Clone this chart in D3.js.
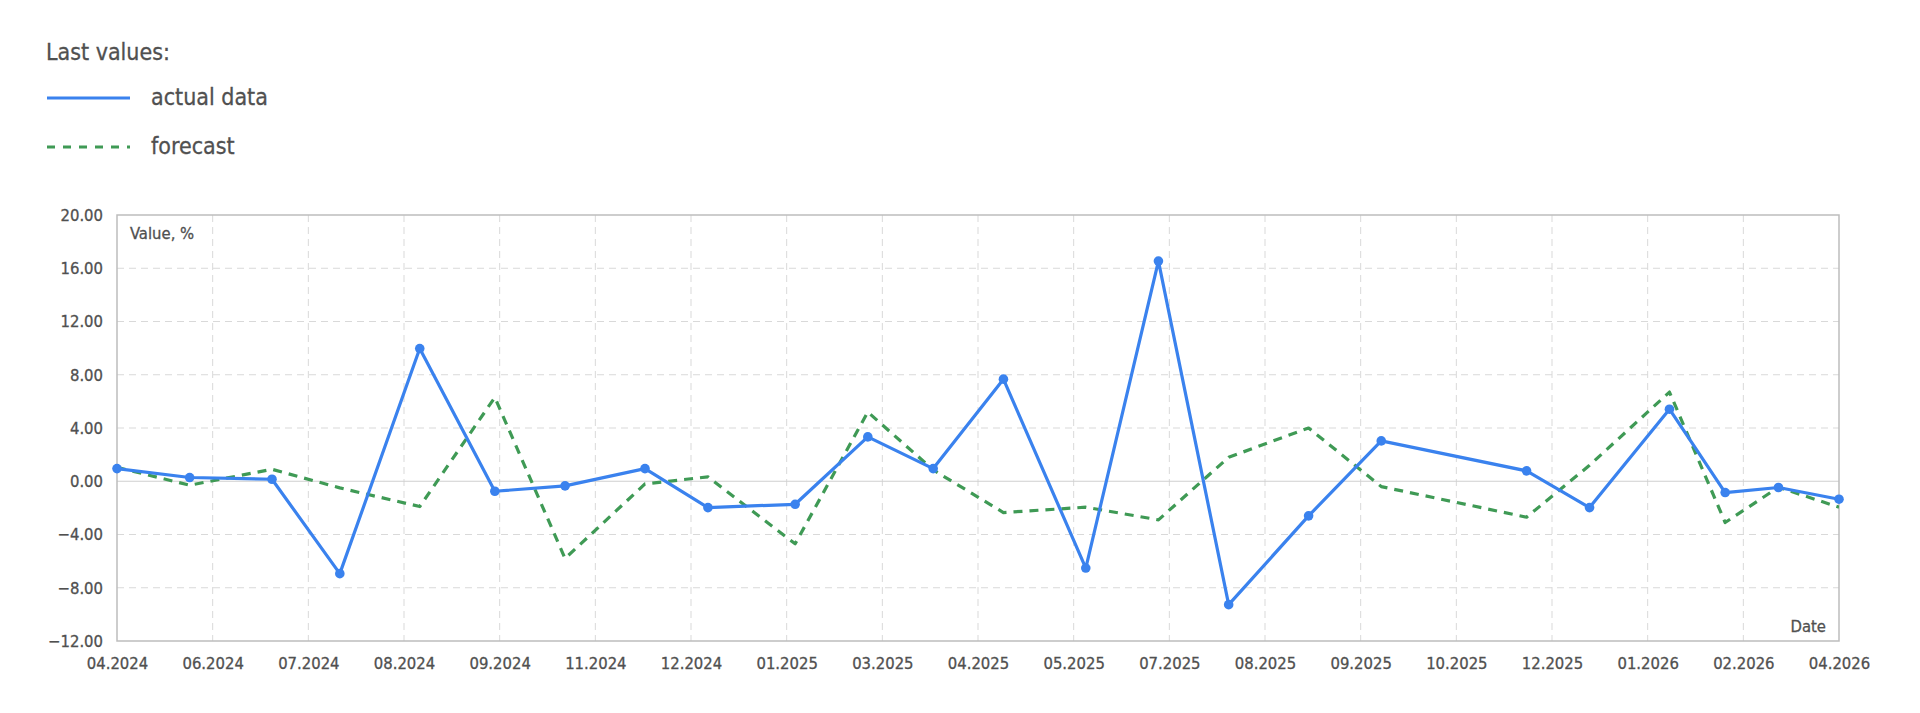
<!DOCTYPE html>
<html>
<head>
<meta charset="utf-8">
<script src="https://cdn.jsdelivr.net/npm/d3@7"></script>
<style>
  html, body { margin: 0; padding: 0; background: #fff; }
  svg { display: block; }
  text { font-family: "DejaVu Sans Condensed", "DejaVu Sans", sans-serif; fill: #505050; stroke: #505050; stroke-width: 0.3px; }
</style>
</head>
<body>
<svg id="chart" width="1920" height="713"></svg>
<script>
// ---- data ----
const dates = ["2024-04-24","2024-05-24","2024-06-27","2024-07-25","2024-08-27","2024-09-27","2024-10-26","2024-11-28","2024-12-24","2025-01-29","2025-02-28","2025-03-27","2025-04-25","2025-05-29","2025-06-28","2025-07-27","2025-08-29","2025-09-28","2025-11-27","2025-12-23","2026-01-25","2026-02-17","2026-03-11","2026-04-05"];
const actualValues = [0.95, 0.28, 0.15, -6.94, 9.97, -0.75, -0.35, 0.95, -1.98, -1.73, 3.33, 0.95, 7.67, -6.52, 16.54, -9.27, -2.6, 3.03, 0.78, -1.98, 5.41, -0.85, -0.47, -1.35];
const forecastValues = [1.05, -0.3, 0.9, -0.5, -1.9, 6.3, -5.8, -0.2, 0.33, -4.7, 5.2, 0.85, -2.35, -1.95, -2.9, 1.8, 4.0, -0.4, -2.7, 1.2, 6.7, -3.1, -0.45, -1.95];
const xTickLabels = ["04.2024","06.2024","07.2024","08.2024","09.2024","11.2024","12.2024","01.2025","03.2025","04.2025","05.2025","07.2025","08.2025","09.2025","10.2025","12.2025","01.2026","02.2026","04.2026"];
const yTickValues = [-12, -8, -4, 0, 4, 8, 12, 16, 20];
const seriesNames = ["actual data", "forecast"];

// ---- layout ----
const svg = d3.select("#chart");
const plot = { left: 117, right: 1839, top: 215, bottom: 641 };
const BLUE = "#3a82ee", GREEN = "#3f9a55";
const AXIS_FONT = 16.5;

const parse = d3.utcParse("%Y-%m-%d");
const dts = dates.map(parse);
const x = d3.scaleUtc().domain([dts[0], dts[dts.length - 1]]).range([plot.left, plot.right]);
const y = d3.scaleLinear().domain([-12, 20]).range([plot.bottom, plot.top]);

const t0 = dts[0].getTime(), t1 = dts[dts.length - 1].getTime();
const xTickValues = d3.range(xTickLabels.length).map(k => new Date(t0 + k * (t1 - t0) / (xTickLabels.length - 1)));

// ---- legend ----
svg.append("text").attr("x", 46).attr("y", 60).attr("font-size", 23).text("Last values:");
const lg = svg.append("g");
[[BLUE, null], [GREEN, "8,8"]].forEach((s, i) => {
  const yy = 98 + i * 49;
  lg.append("line").attr("x1", 47).attr("x2", 130).attr("y1", yy).attr("y2", yy)
    .attr("stroke", s[0]).attr("stroke-width", 3).attr("stroke-dasharray", s[1]);
  lg.append("text").attr("x", 151).attr("y", yy + 7).attr("font-size", 23).text(seriesNames[i]);
});

// ---- grid ----
const grid = svg.append("g");
grid.selectAll("line.v").data(xTickValues.slice(1, -1)).join("line")
  .attr("x1", d => x(d)).attr("x2", d => x(d)).attr("y1", plot.top).attr("y2", plot.bottom)
  .attr("stroke", "#d9d9d9").attr("stroke-width", 1).attr("stroke-dasharray", "7,5");
grid.selectAll("line.h").data(yTickValues.filter(v => v !== 0 && v !== -12 && v !== 20)).join("line")
  .attr("x1", plot.left).attr("x2", plot.right).attr("y1", d => y(d)).attr("y2", d => y(d))
  .attr("stroke", "#d9d9d9").attr("stroke-width", 1).attr("stroke-dasharray", "7,5");
grid.append("line").attr("x1", plot.left).attr("x2", plot.right).attr("y1", y(0)).attr("y2", y(0))
  .attr("stroke", "#cfcfcf").attr("stroke-width", 1.2);

// frame
svg.append("rect").attr("x", plot.left).attr("y", plot.top)
  .attr("width", plot.right - plot.left).attr("height", plot.bottom - plot.top)
  .attr("fill", "none").attr("stroke", "#bdbdbd").attr("stroke-width", 1.5);

// ---- axes ----
const yAxis = d3.axisLeft(y).tickValues(yTickValues).tickFormat(d3.format(".2f")).tickSize(0).tickPadding(14);
const ya = svg.append("g").attr("transform", `translate(${plot.left},0)`).call(yAxis);
ya.select(".domain").remove();
ya.selectAll("text").attr("font-size", AXIS_FONT).attr("font-family", null).style("fill", "#505050");

const xAxis = d3.axisBottom(x).tickValues(xTickValues).tickFormat((d, i) => xTickLabels[i]).tickSize(0).tickPadding(16);
const xa = svg.append("g").attr("transform", `translate(0,${plot.bottom})`).call(xAxis);
xa.select(".domain").remove();
xa.selectAll("text").attr("font-size", AXIS_FONT).attr("font-family", null).style("fill", "#505050");

svg.append("text").attr("x", plot.left + 13).attr("y", plot.top + 24).attr("font-size", AXIS_FONT).text("Value, %");
svg.append("text").attr("x", plot.right - 13).attr("y", plot.bottom - 9).attr("font-size", AXIS_FONT)
  .attr("text-anchor", "end").text("Date");

// ---- series ----
svg.append("clipPath").attr("id", "clip").append("rect")
  .attr("x", plot.left).attr("y", plot.top - 10).attr("width", plot.right - plot.left).attr("height", plot.bottom - plot.top + 20);

const fLine = d3.line().x((d, i) => x(dts[i])).y(d => y(d));
svg.append("path").attr("d", fLine(forecastValues)).attr("fill", "none")
  .attr("stroke", GREEN).attr("stroke-width", 3.2).attr("stroke-dasharray", "9,7")
  .attr("stroke-linejoin", "round").attr("clip-path", "url(#clip)");

const aLine = d3.line().x((d, i) => x(dts[i])).y(d => y(d));
svg.append("path").attr("d", aLine(actualValues)).attr("fill", "none")
  .attr("stroke", BLUE).attr("stroke-width", 3.2).attr("stroke-linejoin", "round");
svg.append("g").selectAll("circle").data(actualValues).join("circle")
  .attr("cx", (d, i) => x(dts[i])).attr("cy", d => y(d)).attr("r", 4.8).attr("fill", BLUE);
</script>
</body>
</html>
